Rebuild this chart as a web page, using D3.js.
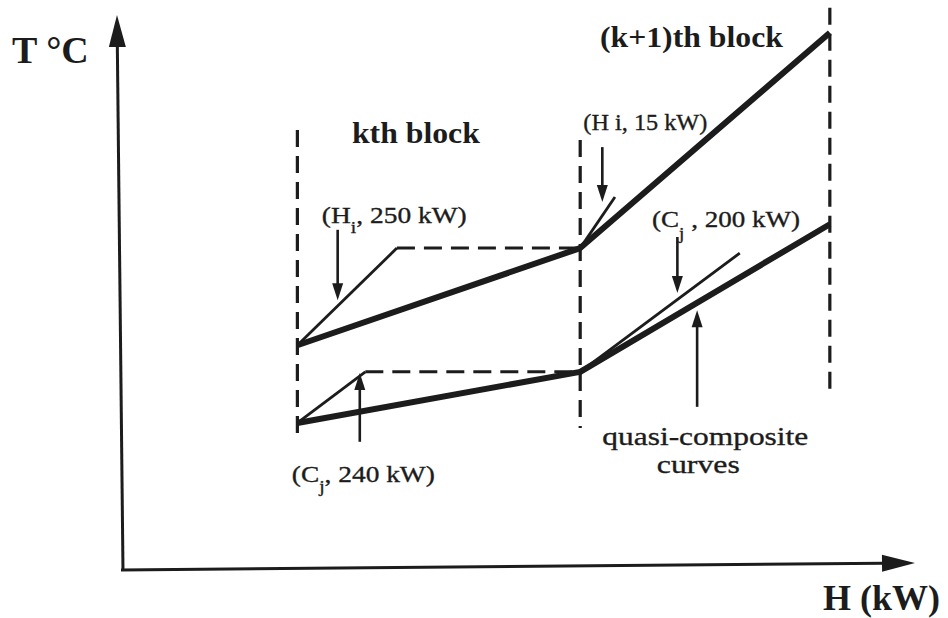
<!DOCTYPE html>
<html>
<head>
<meta charset="utf-8">
<script src="https://cdn.jsdelivr.net/npm/d3@7/dist/d3.min.js"></script>
<title>quasi-composite curves of the kth and (k+1)th blocks</title>
<style>
body {
	margin: 0;
	background: white;
}
text {
	font-family: "Liberation Serif", "DejaVu Serif", serif;
	fill: #1c1c1c;
}
text.regular {
	stroke: #1c1c1c;
	stroke-width: 0.35px;
}
</style>
</head>
<body>
<div id="chart"></div>
<script>

// -- data (H and T in arbitrary units, 0..100)

// enthalpy boundaries of the kth and (k+1)th blocks
var blockBounds = [22.2, 58.0, 89.6];
var boundTop = [79.3, 77.5, 101.3];
var boundBottom = [23.4, 25.6, 31.9];

// quasi-composite curves, temperature at each block boundary
var hotCurve = [40.5, 58.0, 96.8];
var coldCurve = [26.5, 35.7, 62.3];

// single streams drawn in thin lines
var streamNames = ["H_i 250 kW", "C_j 240 kW", "H_i 15 kW", "C_j 200 kW"];
var streamStartH = [22.2, 22.2, 58.0, 58.0];
var streamStartT = [40.5, 26.5, 58.0, 35.7];
var streamEndH = [34.8, 30.8, 62.4, 78.2];
var streamEndT = [58.0, 35.7, 67.2, 57.1];
// constant temperature part (dashed) after the stream is used up
var plateauEndH = [58.0, 58.0, null, null];

// pointer arrows
var arrowH = [27.3, 60.8, 70.3, 30.1, 72.8];
var arrowFrom = [61.3, 76.2, 60.0, 23.1, 29.4];
var arrowTo = [48.6, 66.3, 49.9, 35.5, 46.8];

// annotations: pieces of text, "s" marks a subscript
var labelParts = [
	[["kth block"]],
	[["(k+1)th block"]],
	[["(H"], ["i", "s"], [", 250 kW)"]],
	[["(H i, 15 kW)"]],
	[["(C"], ["j", "s"], [" , 200 kW)"]],
	[["(C"], ["j", "s"], [", 240 kW)"]],
	[["quasi-composite"]],
	[["curves"]],
];
var labelH = [29.1, 60.5, 25.3, 58.4, 67.1, 21.5, 60.8, 67.7];
var labelT = [76.9, 94.2, 62.5, 79.3, 61.8, 15.9, 22.5, 17.5];

// -- layout / style

var W = 948, H = 618;
var ink = "#1c1c1c";
var labelSize = [29, 30, 24, 24, 24, 24, 26, 26];
var labelBold = [true, true, false, false, false, false, false, false];
var labelWidth = [128, 183, 145, 124, 148, 143, 206, 83];
var subDy = [0, 0, 10, 0, 12, 10, 0, 0];

var svg = d3.select("#chart")
	.append("svg")
		.attr("width", W)
		.attr("height", H);

var x = d3.scaleLinear()
	.domain([0, 100])
	.range([122, 912]);

var y = d3.scaleLinear()
	.domain([0, 100])
	.range([570, 15]);

// arrow helper: line p0 -> p1 with a filled head at p1
function arrow(g, x0, y0, x1, y1, width, headLen, headW) {
	var dx = x1 - x0, dy = y1 - y0;
	var len = Math.sqrt(dx * dx + dy * dy);
	var ux = dx / len, uy = dy / len;
	var bx = x1 - ux * headLen, by = y1 - uy * headLen;
	g.append("line")
		.attr("x1", x0).attr("y1", y0)
		.attr("x2", bx + ux * 2).attr("y2", by + uy * 2)
		.attr("stroke", ink)
		.attr("stroke-width", width);
	g.append("path")
		.attr("d", "M" + x1 + "," + y1 +
			"L" + (bx - uy * headW / 2) + "," + (by + ux * headW / 2) +
			"L" + (bx + uy * headW / 2) + "," + (by - ux * headW / 2) + "Z")
		.attr("fill", ink);
}

// -- axes (the scan is slightly tilted)
var axes = svg.append("g");
arrow(axes, x(0) + 1, y(0) + 1, x(0) - 5, y(100), 3, 32, 17);
arrow(axes, x(0) - 1, y(0), x(100) + 3, y(0) - 7, 3, 33, 17);

svg.append("text")
	.attr("x", 12).attr("y", 63)
	.style("font-size", "38px")
	.style("font-weight", "bold")
	.text("T °C");

svg.append("text")
	.attr("x", 823).attr("y", 610)
	.style("font-size", "36px")
	.style("font-weight", "bold")
	.text("H (kW)");

// -- block boundaries
svg.append("g")
	.selectAll("line")
	.data(blockBounds)
	.enter()
	.append("line")
		.attr("x1", d => x(d))
		.attr("x2", d => x(d))
		.attr("y1", (d, i) => y(boundTop[i]))
		.attr("y2", (d, i) => y(boundBottom[i]))
		.attr("stroke", ink)
		.attr("stroke-width", 3.2)
		.attr("stroke-dasharray", "17,9");

// -- single streams
var line = d3.line().x(d => x(d[0])).y(d => y(d[1]));

var streams = svg.append("g");
streamNames.forEach(function(name, i) {
	streams.append("path")
		.attr("d", line([[streamStartH[i], streamStartT[i]], [streamEndH[i], streamEndT[i]]]))
		.attr("fill", "none")
		.attr("stroke", ink)
		.attr("stroke-width", 2.8)
		.append("title").text(name);
	if (plateauEndH[i] != null) {
		streams.append("path")
			.attr("d", line([[streamEndH[i], streamEndT[i]], [plateauEndH[i], streamEndT[i]]]))
			.attr("fill", "none")
			.attr("stroke", ink)
			.attr("stroke-width", 3)
			.attr("stroke-dasharray", "18,9");
	}
});

// -- quasi-composite curves
[hotCurve, coldCurve].forEach(function(c) {
	svg.append("path")
		.attr("d", line(blockBounds.map((h, i) => [h, c[i]])))
		.attr("fill", "none")
		.attr("stroke", ink)
		.attr("stroke-width", 6)
		.attr("stroke-linejoin", "round");
});

// -- pointer arrows
var pointers = svg.append("g");
arrowH.forEach(function(h, i) {
	arrow(pointers, x(h), y(arrowFrom[i]), x(h), y(arrowTo[i]), 2.6, 17, 11);
});

// -- labels
labelParts.forEach(function(parts, i) {
	var g = svg.append("g")
		.attr("transform", "translate(" + x(labelH[i]) + "," + y(labelT[i]) + ")");
	var t = g.append("text")
		.attr("class", labelBold[i] ? "bold" : "regular")
		.style("font-size", labelSize[i] + "px")
		.style("font-weight", labelBold[i] ? "bold" : "normal");
	var shift = 0;
	parts.forEach(function(p) {
		var ts = t.append("tspan").text(p[0]);
		if (p[1] == "s") {
			ts.attr("dy", subDy[i]).style("font-size", "17px");
			shift = subDy[i];
		} else if (shift) {
			ts.attr("dy", -shift);
			shift = 0;
		}
	});
	var w = t.node().getComputedTextLength();
	t.attr("transform", "scale(" + (labelWidth[i] / w) + ",1)");
});

</script>
</body>
</html>
